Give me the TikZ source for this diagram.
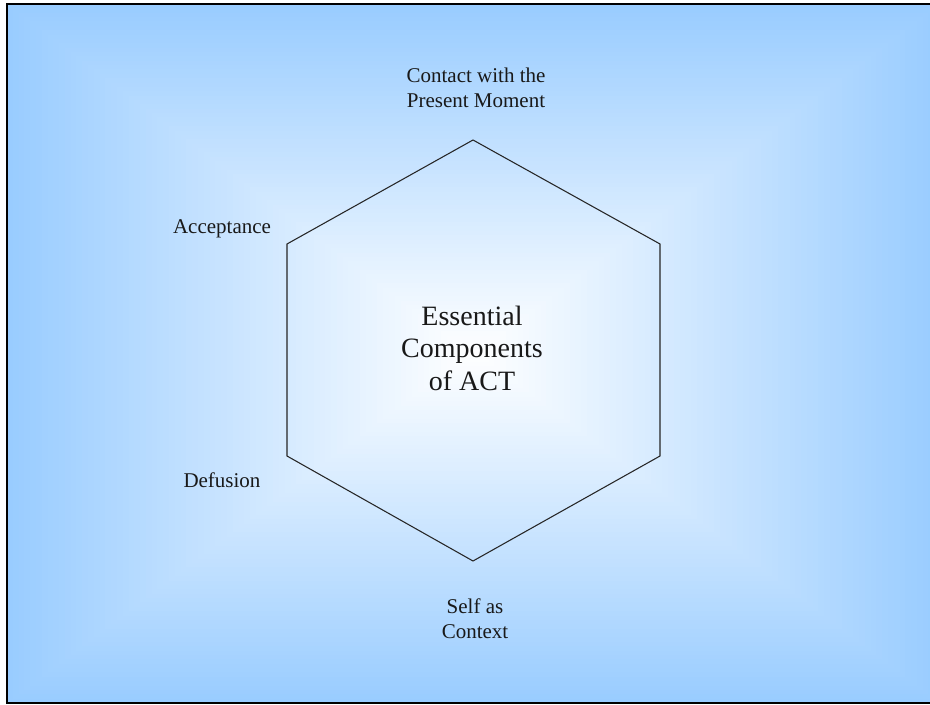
\documentclass[tikz,border=0pt]{standalone}
\usepackage{fontspec}
\setmainfont{Liberation Serif}
\definecolor{skyblue}{RGB}{153,204,255}

\begin{document}
\begin{tikzpicture}
  [x=0.75pt, y=-0.75pt,
   every node/.style={inner sep=0pt, align=center, text=black!90},
   label/.style={font=\fontsize{15.75}{18.6}\selectfont},
   core/.style={font=\fontsize{21}{24.4}\selectfont},
   edge/.style={draw=black!85, line width=0.8pt, line join=miter}]
  \useasboundingbox (0,0) rectangle (930,705);
  % background, light blue to white towards the middle
  \foreach \i in {0,...,79} {
    \pgfmathsetmacro{\t}{\i/80}
    \pgfmathsetmacro{\w}{100*\t}
    \fill[white!\w!skyblue] ({7+\t*463},{4+\t*349}) rectangle ({940-\t*463},{703-\t*350});
  }
  \draw[line width=2.2pt] (7,4) rectangle (940,703);
  % hexagon
  \coordinate (top) at (473,140);
  \coordinate (ur) at (660,244);
  \coordinate (lr) at (660,456);
  \coordinate (bot) at (473,561);
  \coordinate (ll) at (287,456);
  \coordinate (ul) at (287,244);
  \draw[edge] (top) -- (ur) -- (lr) -- (bot) -- (ll) -- (ul) -- cycle;
  % texts
  \node[core] (act) at (472,348) {Essential\\Components\\of ACT};
  \node[label] (contact) at (476,88) {Contact with the\\Present Moment};
  \node[label] (accept) at (222,229) {Acceptance};
  \node[label] (defuse) at (222,480) {Defusion};
  \node[label] (self) at (475,619) {Self as\\Context};
\end{tikzpicture}
\end{document}
